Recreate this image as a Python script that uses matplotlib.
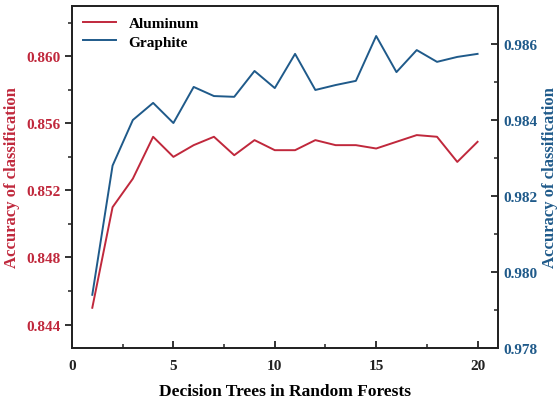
import matplotlib.pyplot as plt
from matplotlib.ticker import MultipleLocator

plt.rcParams['font.family'] = ['Liberation Serif', 'DejaVu Serif']
plt.rcParams['font.weight'] = 'bold'

trees = list(range(1, 21))
aluminum = [0.8450, 0.8510, 0.8527, 0.8552, 0.8540, 0.8547, 0.8552, 0.8541, 0.8550, 0.8544,
            0.8544, 0.8550, 0.8547, 0.8547, 0.8545, 0.8549, 0.8553, 0.8552, 0.8537, 0.8549]
graphite = [0.9794, 0.9828, 0.9840, 0.98445, 0.98392, 0.98487, 0.98463, 0.98461, 0.98529, 0.98484,
            0.98574, 0.98479, 0.98492, 0.98503, 0.98621, 0.98526, 0.98584, 0.98553, 0.98566, 0.98574]

red = '#c0283c'
blue = '#1f5a8a'

fig = plt.figure(figsize=(5.6, 4.02), dpi=100)
ax = fig.add_axes([0.1286, 0.1318, 0.7604, 0.8508])
ax2 = ax.twinx()

l1, = ax.plot(trees, aluminum, color=red, lw=1.4, label='Aluminum')
l2, = ax2.plot(trees, graphite, color=blue, lw=1.4, label='Graphite')

ax.set_xlim(0, 21)
ax.set_ylim(0.8426, 0.8630)
ax2.set_ylim(0.978, 0.987)

ax.xaxis.set_major_locator(MultipleLocator(5))
ax.xaxis.set_minor_locator(MultipleLocator(2.5))
ax.yaxis.set_major_locator(MultipleLocator(0.004))
ax.yaxis.set_minor_locator(MultipleLocator(0.002))
ax2.yaxis.set_major_locator(MultipleLocator(0.002))
ax2.yaxis.set_minor_locator(MultipleLocator(0.001))

ax.tick_params(axis='x', which='both', direction='in', top=False, labelsize=11, colors='#222222', pad=8)
ax.tick_params(axis='x', which='major', length=5, width=1.3)
ax.tick_params(axis='x', which='minor', length=3, width=1.1)
ax.tick_params(axis='y', which='both', direction='out', labelsize=11, labelcolor=red, color='#222222')
ax.tick_params(axis='y', which='major', length=5, width=1.3)
ax.tick_params(axis='y', which='minor', length=3, width=1.1)
ax2.tick_params(axis='y', which='both', direction='in', labelsize=11, labelcolor=blue, color='#222222', pad=4)
ax2.tick_params(axis='y', which='major', length=5, width=1.3)
ax2.tick_params(axis='y', which='minor', length=3, width=1.1)

ax.yaxis.set_major_formatter(plt.FuncFormatter(lambda v, p: f'{v:.3f}'))
ax2.yaxis.set_major_formatter(plt.FuncFormatter(lambda v, p: f'{v:.3f}'))

for a in (ax, ax2):
    for s in a.spines.values():
        s.set_linewidth(1.3)
        s.set_color('#222222')

ax.set_xlabel('Decision Trees in Random Forests', fontsize=12.5, fontweight='bold', labelpad=8)
ax.set_ylabel('Accuracy of classification', fontsize=12, fontweight='bold', color=red, labelpad=4)
ax2.set_ylabel('Accuracy of classification', fontsize=12, fontweight='bold', color=blue, labelpad=3)

ax.legend(handles=[l1, l2], loc='upper left', frameon=False, fontsize=11,
          handlelength=2.2, borderaxespad=0.3, labelspacing=0.3)

fig.savefig('out.png', dpi=100, facecolor='white')
